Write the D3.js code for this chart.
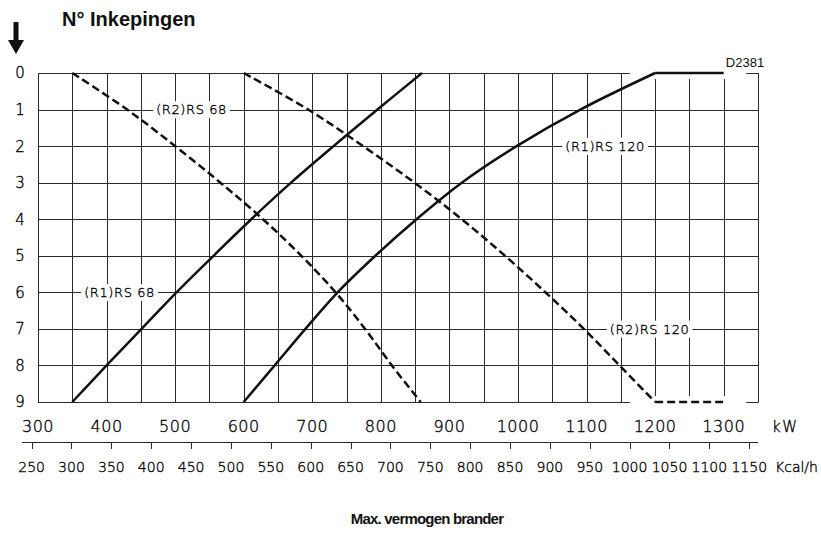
<!DOCTYPE html>
<html>
<head>
<meta charset="utf-8">
<script src="https://cdnjs.cloudflare.com/ajax/libs/d3/7.8.5/d3.min.js"></script>
<style>
  body { margin: 0; background: #fff; }
  .cad { font-family: "DejaVu Sans", sans-serif; font-weight: 200; fill: #000; stroke: #000; stroke-width: 0.35px; }
  .bold { font-family: "Liberation Sans", Arial, sans-serif; font-weight: bold; fill: #111; }
</style>
</head>
<body>
<div class="chart"></div>
<script>
  // rows of the y axis (number of notches)
  var rows = [0, 1, 2, 3, 4, 5, 6, 7, 8, 9];
  // kW at each row 0..9
  var r1rs68  = [860, 795, 731, 669, 611, 556, 502, 451, 400, 350];
  var r2rs68  = [350, 430, 500, 566, 628, 684, 734, 777, 816, 858];
  var r1rs120 = [1200, 1091, 998, 918, 852, 792, 737, 690, 645, 600];
  var r2rs120 = [600, 694, 774, 849, 918, 981, 1040, 1096, 1148, 1200];
  // flat parts of the RS 120 curves
  var plateauKw = [1200, 1300];

  var kwTicks = [300, 400, 500, 600, 700, 800, 900, 1000, 1100, 1200, 1300];
  var gridKw = d3.range(350, 1301, 50);
  var kcalTicks = d3.range(250, 1151, 50);

  var labels = [
    {text: "(R2)RS 68",  kw: 524,  row: 1},
    {text: "(R1)RS 68",  kw: 419,  row: 6},
    {text: "(R1)RS 120", kw: 1127, row: 2},
    {text: "(R2)RS 120", kw: 1192, row: 7}
  ];

  var w = 821, h = 540;
  var svg = d3.select(".chart").append("svg")
    .attr("width", w).attr("height", h);

  var x = d3.scaleLinear().domain([300, 1350]).range([38, 758]);
  var y = d3.scaleLinear().domain([0, 9]).range([73, 402]);
  // 1 kW = 0.86 Mcal/h
  var xk = function(k){ return x(k / 0.86); };

  var gridColor = "#2a2a2a";
  var grid = svg.append("g").attr("stroke", gridColor).attr("stroke-width", 1).attr("fill", "none");

  // horizontal lines; row 0 and 9 broken near the flat parts
  grid.selectAll(".hrow")
    .data(rows.filter(function(d){ return d != 0 && d != 9; }))
    .enter().append("line")
    .attr("x1", x(300)).attr("x2", x(1350))
    .attr("y1", function(d){ return Math.round(y(d)) + 0.5; })
    .attr("y2", function(d){ return Math.round(y(d)) + 0.5; });
  [0, 9].forEach(function(r){
    var yy = Math.round(y(r)) + 0.5;
    grid.append("line").attr("x1", x(300)).attr("x2", x(1163)).attr("y1", yy).attr("y2", yy);
    grid.append("line").attr("x1", x(1333)).attr("x2", x(1350)).attr("y1", yy).attr("y2", yy);
  });

  // vertical lines
  grid.selectAll(".vcol")
    .data(gridKw)
    .enter().append("line")
    .attr("x1", function(d){ return Math.round(x(d)) + 0.5; })
    .attr("x2", function(d){ return Math.round(x(d)) + 0.5; })
    .attr("y1", function(d){ return d >= 1200 ? y(0) + 6 : y(0); })
    .attr("y2", function(d){ return d >= 1200 ? y(9) - 6 : y(9); });
  // borders left / right
  [300, 1350].forEach(function(k){
    var xx = Math.round(x(k)) + 0.5;
    grid.append("line").attr("x1", xx).attr("x2", xx).attr("y1", y(0)).attr("y2", y(9) + 0.5);
  });

  // curve labels with white box
  labels.forEach(function(l){
    var t = svg.append("text")
      .attr("class", "cad")
      .attr("x", x(l.kw)).attr("y", y(l.row))
      .attr("dy", "0.36em")
      .attr("text-anchor", "middle")
      .style("font-size", "13px")
      .style("letter-spacing", "0.6px")
      .text(l.text);
    var bb = t.node().getBBox();
    svg.insert("rect", "text")
      .attr("x", bb.x - 3).attr("y", bb.y - 1)
      .attr("width", bb.width + 6).attr("height", bb.height + 2)
      .attr("fill", "#fff");
  });

  // curves
  var line = d3.line()
    .x(function(d){ return x(d.kw); })
    .y(function(d){ return y(d.row); })
    .curve(d3.curveCatmullRom.alpha(0.5));
  var flat = d3.line()
    .x(function(d){ return x(d.kw); })
    .y(function(d){ return y(d.row); });

  function toPts(arr){
    return arr.map(function(v, i){ return {kw: v, row: rows[i]}; });
  }
  var curves = [
    {data: r1rs68, dash: null},
    {data: r2rs68, dash: "8,4"},
    {data: r1rs120, dash: null},
    {data: r2rs120, dash: "8,4"}
  ];
  svg.selectAll(".curve")
    .data(curves)
    .enter().append("path")
    .attr("d", function(d){ return line(toPts(d.data)); })
    .attr("fill", "none")
    .attr("stroke", "#111")
    .attr("stroke-width", 2.5)
    .attr("stroke-dasharray", function(d){ return d.dash; });

  svg.append("path")
    .attr("d", flat(plateauKw.map(function(k){ return {kw: k, row: 0}; })))
    .attr("fill", "none").attr("stroke", "#111").attr("stroke-width", 2.5);
  svg.append("path")
    .attr("d", flat(plateauKw.map(function(k){ return {kw: k, row: 9}; })))
    .attr("fill", "none").attr("stroke", "#111").attr("stroke-width", 2.5)
    .attr("stroke-dasharray", "8,4");

  // y labels
  svg.selectAll(".ylab")
    .data(rows)
    .enter().append("text")
    .attr("class", "cad")
    .attr("x", 20).attr("y", function(d){ return y(d); })
    .attr("dy", "0.36em")
    .attr("text-anchor", "middle")
    .style("font-size", "15px")
    .text(function(d){ return d; });

  // kW labels
  svg.selectAll(".kwlab")
    .data(kwTicks)
    .enter().append("text")
    .attr("class", "cad")
    .attr("x", function(d){ return x(d); }).attr("y", 432)
    .attr("text-anchor", "middle")
    .style("font-size", "16px")
    .style("letter-spacing", "0.5px")
    .text(function(d){ return d; });
  svg.append("text").attr("class", "cad")
    .attr("x", 772).attr("y", 432)
    .style("font-size", "15px").style("letter-spacing", "1.5px")
    .text("kW");

  // Kcal/h axis
  var ax = svg.append("g").attr("stroke", gridColor).attr("stroke-width", 1);
  ax.append("line").attr("x1", 22).attr("x2", x(1350)).attr("y1", 442.5).attr("y2", 442.5);
  ax.selectAll(".ktick")
    .data(kcalTicks)
    .enter().append("line")
    .attr("x1", function(d){ return Math.round(xk(d)) + 0.5; })
    .attr("x2", function(d){ return Math.round(xk(d)) + 0.5; })
    .attr("y1", 442).attr("y2", 449);
  svg.selectAll(".klab")
    .data(kcalTicks)
    .enter().append("text")
    .attr("class", "cad")
    .attr("x", function(d){ return xk(d); }).attr("y", 472)
    .attr("text-anchor", "middle")
    .style("font-size", "14px")
    .text(function(d){ return d; });
  svg.append("text").attr("class", "cad")
    .attr("x", 775).attr("y", 472)
    .style("font-size", "14px")
    .text("Kcal/h");

  // arrow
  svg.append("path")
    .attr("d", "M13.5,22 L18.5,22 L18.5,40 L24,40 L16,54 L8,40 L13.5,40 Z")
    .attr("fill", "#111");

  // titles
  svg.append("text").attr("class", "bold")
    .attr("x", 62).attr("y", 26)
    .style("font-size", "20px")
    .text("N° Inkepingen");
  svg.append("text").attr("class", "bold")
    .attr("x", 427).attr("y", 524)
    .attr("text-anchor", "middle")
    .style("font-size", "15px")
    .style("letter-spacing", "-0.8px")
    .text("Max. vermogen brander");
  svg.append("text")
    .attr("x", 745).attr("y", 67)
    .attr("text-anchor", "middle")
    .style("font-family", "Liberation Sans, Arial, sans-serif")
    .style("font-size", "13px")
    .attr("fill", "#111")
    .text("D2381");
</script>
</body>
</html>
